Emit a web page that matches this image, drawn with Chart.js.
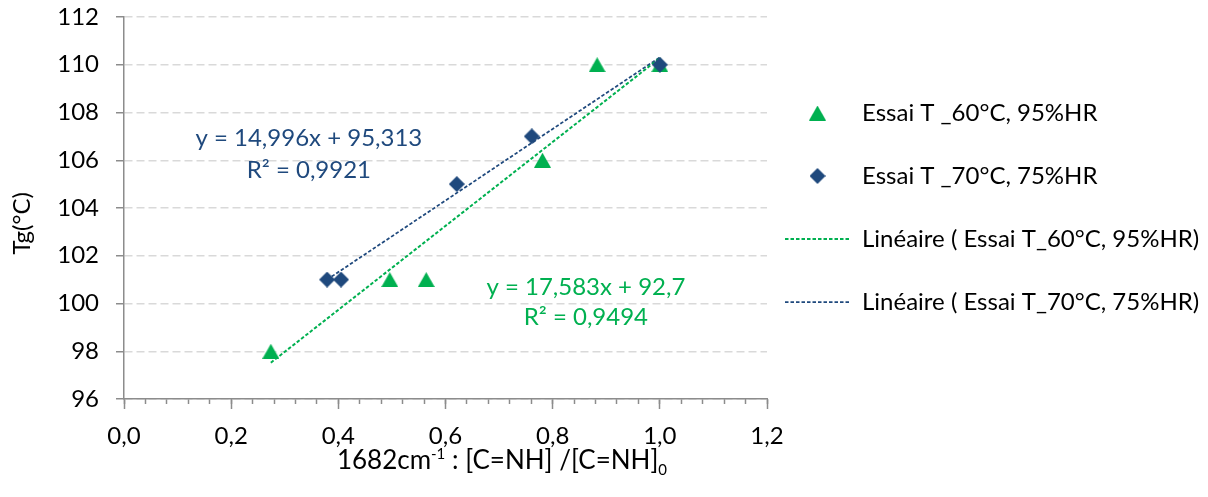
<!DOCTYPE html>
<html><head><meta charset="utf-8">
<script src="https://cdn.jsdelivr.net/npm/chart.js@4.4.1/dist/chart.umd.min.js"></script>
<style>html,body{margin:0;padding:0;background:#fff;} #wrap{width:1208px;height:497px;position:relative;}</style>
</head><body><div id="wrap"><canvas id="c"></canvas></div>
<script>
// ---- data ----
const seriesNames = ['Essai T _60°C, 95%HR', 'Essai T _70°C, 75%HR', 'Linéaire ( Essai T_60°C, 95%HR)', 'Linéaire ( Essai T_70°C, 75%HR)'];
const green60X = [0.274, 0.496, 0.564, 0.781, 0.883, 1.0];
const green60Y = [98, 101, 101, 106, 110, 110];
const blue70X = [0.379, 0.405, 0.621, 0.761, 1.0];
const blue70Y = [101, 101, 105, 107, 110];
const trend60X = [0.274, 1.0];
const trend60Y = [97.52, 110.28];
const trend70X = [0.379, 1.0];
const trend70Y = [101.0, 110.31];
const eq60 = ['y = 17,583x + 92,7', 'R² = 0,9494'];
const eq70 = ['y = 14,996x + 95,313', 'R² = 0,9921'];
const xTickLabels = ['0,0', '0,2', '0,4', '0,6', '0,8', '1,0', '1,2'];
const yTickLabels = ['96', '98', '100', '102', '104', '106', '108', '110', '112'];
const yTitle = 'Tg(°C)';
const xTitleParts = [['1682cm', 'n'], ['-1', 'sup'], [' : [C=NH] /[C=NH]', 'n'], ['0', 'sub']];

// ---- styles ----
const GREEN = '#00B050', BLUE = '#1F497D', AXIS = '#8C8C8C', GRID = '#D9D9D9';
const FONT = 'Lato';
function pts(xs, ys) { return xs.map((x, i) => ({x: x, y: ys[i]})); }
function makeTriangle(color) {
  const c = document.createElement('canvas'); c.width = 17; c.height = 15;
  const g = c.getContext('2d'); g.fillStyle = color; g.beginPath();
  g.moveTo(8.5, 0); g.lineTo(17, 15); g.lineTo(0, 15); g.closePath(); g.fill(); return c;
}
function makeDiamond(color) {
  const c = document.createElement('canvas'); c.width = 16; c.height = 16;
  const g = c.getContext('2d'); g.fillStyle = color; g.beginPath();
  g.moveTo(8, 0); g.lineTo(16, 8); g.lineTo(8, 16); g.lineTo(0, 8); g.closePath(); g.fill(); return c;
}
const tri = makeTriangle(GREEN), dia = makeDiamond(BLUE);

const annotations = [
  {lines: eq70, color: BLUE, x: 0.345, y: [106.93, 105.59]},
  {lines: eq60, color: GREEN, x: 0.862, y: [100.69, 99.43]}
];

const textPlugin = {
  id: 'texts',
  afterDraw(chart) {
    const ctx = chart.ctx, xs = chart.scales.x, ys = chart.scales.y;
    ctx.save();
    ctx.font = '24px ' + FONT;
    ctx.textAlign = 'center'; ctx.textBaseline = 'middle';
    annotations.forEach(a => {
      ctx.fillStyle = a.color;
      a.lines.forEach((t, i) => ctx.fillText(t, xs.getPixelForValue(a.x), ys.getPixelForValue(a.y[i])));
    });
    // x axis title with superscript / subscript
    const fonts = {n: '26px ' + FONT, sup: '15px ' + FONT, sub: '15px ' + FONT};
    const dy = {n: 0, sup: -10, sub: 6};
    let total = 0;
    xTitleParts.forEach(p => { ctx.font = fonts[p[1]]; total += ctx.measureText(p[0]).width; });
    let x = 502 - total / 2;
    const base = xs.top + 70;
    ctx.textAlign = 'left'; ctx.textBaseline = 'alphabetic'; ctx.fillStyle = '#000';
    xTitleParts.forEach(p => {
      ctx.font = fonts[p[1]];
      ctx.fillText(p[0], x, base + dy[p[1]]);
      x += ctx.measureText(p[0]).width;
    });
    ctx.restore();
  }
};

const chart = new Chart(document.getElementById('c'), {
  type: 'scatter',
  data: {
    datasets: [
      {label: seriesNames[0], data: pts(green60X, green60Y), pointStyle: tri, pointRadius: 8, backgroundColor: GREEN, borderColor: GREEN, order: 1},
      {label: seriesNames[1], data: pts(blue70X, blue70Y), pointStyle: dia, pointRadius: 8, backgroundColor: BLUE, borderColor: BLUE, order: 0},
      {label: seriesNames[2], data: pts(trend60X, trend60Y), showLine: true, pointRadius: 0, pointStyle: 'line', borderColor: GREEN, backgroundColor: GREEN, borderWidth: 2, borderDash: [3.5, 2], order: 2},
      {label: seriesNames[3], data: pts(trend70X, trend70Y), showLine: true, pointRadius: 0, pointStyle: 'line', borderColor: BLUE, backgroundColor: BLUE, borderWidth: 1.75, borderDash: [3.5, 2], order: 3}
    ]
  },
  options: {
    responsive: true, maintainAspectRatio: false, animation: false,
    layout: {padding: {top: 17, right: 0, bottom: 0, left: 0}},
    plugins: {
      tooltip: {enabled: false},
      legend: {
        position: 'right', align: 'start', maxWidth: 441,
        title: {display: true, text: '', font: {family: FONT, size: 24}, padding: {top: 37.2, bottom: 0}},
        labels: {
          usePointStyle: true, pointStyleWidth: 65, padding: 18, color: '#000',
          font: {family: FONT, size: 24, lineHeight: 1.875},
          generateLabels(chart) {
            return chart.data.datasets.map((ds, i) => ({
              text: [ds.label], fillStyle: ds.backgroundColor, strokeStyle: ds.borderColor,
              lineWidth: ds.showLine ? ds.borderWidth : 0, lineDash: ds.borderDash || [],
              pointStyle: ds.pointStyle, fontColor: '#000', hidden: false, datasetIndex: i
            }));
          }
        }
      }
    },
    scales: {
      x: {
        type: 'linear', position: 'bottom', min: 0, max: 1.2, weight: 0,
        ticks: {stepSize: 0.2, callback: (v, i) => xTickLabels[i], font: {family: FONT, size: 24}, color: '#000', padding: 13, maxRotation: 0, autoSkip: false},
        grid: {display: true, drawOnChartArea: false, drawTicks: true, tickLength: 10, tickColor: AXIS, tickWidth: 1.5},
        border: {display: true, color: AXIS, width: 1.5},
        afterFit: s => { s.height = 98; }
      },
      xMinor: {
        type: 'linear', position: 'bottom', min: 0, max: 1.2, weight: -10,
        ticks: {display: false, stepSize: 0.04, autoSkip: false},
        grid: {display: true, drawOnChartArea: false, drawTicks: true, tickLength: 5, tickColor: AXIS, tickWidth: 1.5},
        border: {display: false},
        afterFit: s => { s.height = 0; }
      },
      y: {
        min: 96, max: 112,
        ticks: {stepSize: 2, callback: (v, i) => yTickLabels[i], font: {family: FONT, size: 24}, color: '#000', padding: 17},
        grid: {color: GRID, lineWidth: 1.5, tickColor: AXIS, tickLength: 8, tickWidth: 1.5, tickBorderDash: []},
        border: {display: true, color: AXIS, width: 1.5, dash: [8, 4]},
        title: {display: true, text: yTitle + '     ', font: {family: FONT, size: 24}, color: '#000', padding: {top: 8, bottom: 0}},
        afterFit: s => { s.width = 124; s.paddingTop = 0; s.paddingBottom = 0; }
      }
    }
  },
  plugins: [textPlugin]
});
</script></body></html>
